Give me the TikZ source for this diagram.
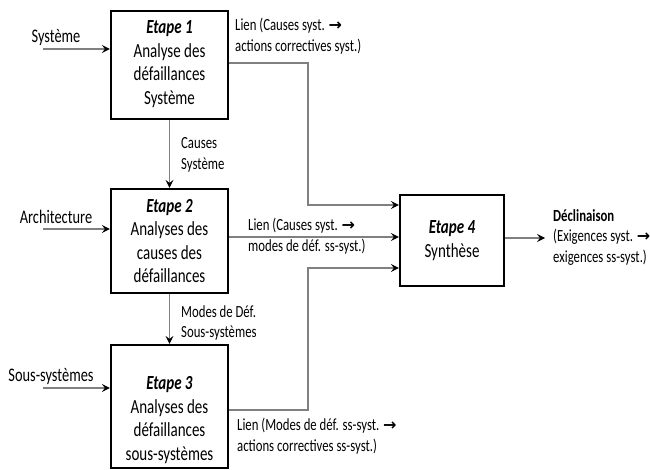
\documentclass[tikz,border=0pt]{standalone}
\usepackage{fontspec}
% narrow, tall lettering
\setmainfont{Carlito}[FakeStretch=0.75]
\newfontfamily\symfont{DejaVu Sans}
\usetikzlibrary{arrows.meta,calc}
% arrow sign used inside the link labels
\newcommand\lienarrow{{\symfont\bfseries\fontsize{16}{16}\selectfont →}}

\begin{document}
\begin{tikzpicture}[x=1pt,y=-1pt,
  stepbox/.style={draw=black,line width=2.2pt,inner sep=0pt},
  boxtext/.style={font=\fontsize{20}{23.5}\selectfont,align=center,inner sep=0pt},
  inlabel/.style={font=\fontsize{19.2}{21}\selectfont,inner sep=0pt},
  note/.style={font=\fontsize{17}{20.5}\selectfont,align=left,inner sep=0pt},
  conn/.style={draw=gray,line width=1.3pt,
    -{Stealth[color=black,length=8pt,width=8pt,inset=3pt]}}]
\useasboundingbox (0,0) rectangle (650,470);

% process steps
\node[stepbox,minimum width=117pt,minimum height=108pt] (e1) at (169.5,65) {};
\node[boxtext] (t1) at (169.5,64)
  {\textbf{\textit{Etape 1}}\\Analyse des\\défaillances\\Système};
\node[stepbox,minimum width=117pt,minimum height=104pt] (e2) at (169.5,241) {};
\node[boxtext] (t2) at (169.5,241)
  {\textbf{\textit{Etape 2}}\\Analyses des\\causes des\\défaillances};
\node[stepbox,minimum width=117pt,minimum height=123pt] (e3) at (169.5,406.5) {};
\node[boxtext] (t3) at (169.5,420)
  {\textbf{\textit{Etape 3}}\\Analyses des\\défaillances\\sous-systèmes};
\node[stepbox,minimum width=104pt,minimum height=91pt] (e4) at (452,240.5) {};
\node[boxtext] (t4) at (452,240.5) {\textbf{\textit{Etape 4}}\\Synthèse};

% inputs
\coordinate (s1) at (43,49);
\coordinate (s2) at (43,229);
\coordinate (s3) at (43,388);
\draw[conn] (s1) -- (s1 -| e1.west);
\draw[conn] (s2) -- (s2 -| e2.west);
\draw[conn] (s3) -- (s3 -| e3.west);
\node[inlabel] (ls1) at (56,37) {Système};
\node[inlabel] (ls2) at (56,217) {Architecture};
\node[inlabel] (ls3) at (51,376) {Sous-systèmes};

% chain between steps
\draw[conn] (e1.south) -- (e2.north);
\draw[conn] (e2.south) -- (e3.north);
\node[note,anchor=west] (c12) at (181,155) {Causes\\Système};
\node[note,anchor=west] (c23) at (181,323) {Modes de Déf.\\Sous-systèmes};

% links towards the synthesis
\coordinate (bx) at (308,0);
\coordinate (i1) at ([yshift=35.5pt]e4.west);
\coordinate (i2) at (e4.west |- 0,237);
\coordinate (i3) at ([yshift=-27.5pt]e4.west);
\draw[conn] ([yshift=2pt]e1.east) -| (bx |- i1) -- (i1);
\draw[conn] (e2.east |- i2) -- (i2);
\draw[conn] ([yshift=-3.5pt]e3.east) -| (bx |- i3) -- (i3);
\node[note,anchor=west] (n1) at (235,36)
  {Lien (Causes syst. \lienarrow\\actions correctives syst.)};
\node[note,anchor=west] (n2) at (248,236)
  {Lien (Causes syst. \lienarrow\\modes de déf. ss-syst.)};
\node[note,anchor=west] (n3) at (237,436)
  {Lien (Modes de déf. ss-syst. \lienarrow\\actions correctives ss-syst.)};

% output
\coordinate (out) at (545,238);
\draw[conn] (e4.east |- out) -- (out);
\node[note,anchor=west] (dec) at (553,237)
  {\textbf{Déclinaison}\\(Exigences syst. \lienarrow\\exigences ss-syst.)};
\end{tikzpicture}
\end{document}
